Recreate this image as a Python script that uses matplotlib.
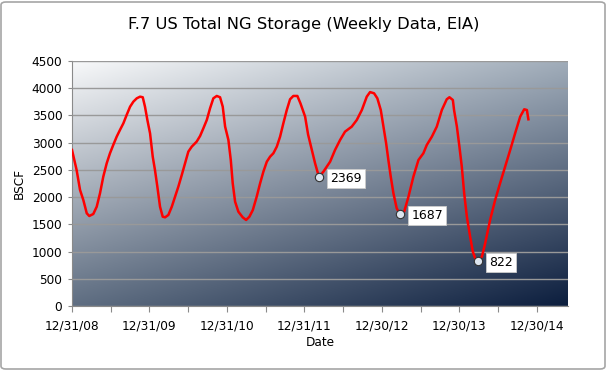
import numpy as np
import matplotlib
matplotlib.use("Agg")
import matplotlib.pyplot as plt
from matplotlib.patches import FancyBboxPatch

# weekly storage, x = week index on the category axis
weeks = [0, 3.1, 5.4, 7.6, 9.9, 11.6, 14.3, 16.6, 18.8, 21, 23.3, 25.5, 27.7, 30, 32.2,
         34.5, 36.7, 39, 41.2, 43.5, 45.7, 47.5, 49, 50.6, 52.4, 54.2, 55.7, 57.3, 59.1,
         60.9, 62.5, 64.7, 67, 69.2, 71.4, 73.7, 75.9, 78.1, 80.4, 83.7, 86, 88.2, 90.5,
         92.7, 94.9, 97.2, 99.4, 101.2, 102.8, 105, 106.6, 107.9, 109.5, 111.7, 114.6,
         116.9, 119.1, 121.4, 124, 126.3, 128.5, 130.8, 133, 135.2, 137.5, 139.7, 141.9,
         144.2, 146.4, 148.6, 151.3, 153.4, 156.5, 158.5, 161, 163.2, 165.8, 168.8, 173.3,
         176.6, 180, 183.3, 187.8, 191.2, 194.6, 197.9, 200.1, 202.8, 205, 207.3, 209.1,
         210.9, 212.4, 214, 215.8, 218, 220.3, 223, 225.9, 229.2, 232.6, 235.9, 238.2,
         241.6, 244.9, 248.3, 251.6, 253.4, 255.7, 256.5, 258.4, 260.1, 261.7, 263.3,
         265.1, 267.3, 269.1, 270.7, 272.5, 275.2, 277.4, 280.7, 284.1, 287.4, 290.8,
         294.2, 297.5, 300.9, 303.6, 305.4, 306.4]
bscf = [2866, 2498, 2131, 1947, 1703, 1653, 1690, 1824, 2070, 2375, 2621, 2805, 2958, 3110,
        3233, 3356, 3509, 3661, 3753, 3815, 3845, 3834, 3661, 3417, 3172, 2743, 2498, 2192,
        1824, 1640, 1629, 1672, 1824, 2008, 2192, 2407, 2621, 2835, 2927, 3019, 3123, 3264,
        3417, 3632, 3815, 3858, 3834, 3661, 3294, 3050, 2682, 2254, 1916, 1732, 1629, 1580,
        1640, 1763, 2008, 2254, 2468, 2651, 2743, 2805, 2927, 3110, 3356, 3600, 3797, 3858,
        3858, 3720, 3478, 3150, 2866, 2621, 2369, 2468, 2651, 2866, 3050, 3202, 3294, 3417,
        3600, 3845, 3929, 3907, 3815, 3600, 3294, 2988, 2682, 2375, 2070, 1794, 1687, 1732,
        2008, 2375, 2682, 2805, 2958, 3110, 3294, 3600, 3797, 3834, 3784, 3600, 3294, 2927,
        2559, 2070, 1640, 1273, 998, 876, 822, 906, 1152, 1580, 1947, 2254, 2559, 2866,
        3172, 3478, 3613, 3600, 3429]

# labelled spring minima
min_weeks = [165.8, 220.3, 272.5]
min_vals = [2369, 1687, 822]

date_labels = ["12/31/08", "12/31/09", "12/31/10", "12/31/11", "12/30/12", "12/30/13", "12/30/14"]

fig = plt.figure(figsize=(6.08, 3.70), dpi=100)
ax = fig.add_axes([72/608, 1-306/370, 496/608, 245/370])

# diagonal background gradient (bilinear between the corners)
tl = np.array([248, 249, 250]) / 255
tr = np.array([160, 172, 185]) / 255
bl = np.array([95, 110, 130]) / 255
br = np.array([12, 30, 62]) / 255
u = np.linspace(0, 1, 400)[None, :, None]
v = np.linspace(0, 1, 200)[:, None, None]
grad = tl*(1-u)*(1-v) + tr*u*(1-v) + bl*(1-u)*v + br*u*v
ax.imshow(grad, extent=[0, 1, 0, 1], transform=ax.transAxes, aspect='auto', zorder=0)

ax.plot(weeks, bscf, color='#ff0000', linewidth=1.8, zorder=3)
ax.plot(min_weeks, min_vals, 'o', markersize=6, markerfacecolor='#dce4ee',
        markeredgecolor='#333333', markeredgewidth=0.8, zorder=4)
for w, val in zip(min_weeks, min_vals):
    ax.annotate(str(val), (w, val), xytext=(8, -1), textcoords='offset points',
                ha='left', va='center', fontsize=9, zorder=5,
                bbox=dict(boxstyle='square,pad=0.25', fc='white', ec='#cccccc', lw=0.6))

ax.set_xlim(0, 333)
ax.set_ylim(0, 4500)
ax.set_yticks(np.arange(0, 4501, 500))
ax.set_xticks(np.arange(0, 313, 26))
ax.set_xticklabels([date_labels[k // 2] if k % 2 == 0 else '' for k in range(13)])
ax.yaxis.grid(True, color='#999999', linewidth=1, zorder=1)
ax.set_axisbelow(False)
for s in ['top', 'right']:
    ax.spines[s].set_visible(False)
for s in ['left', 'bottom']:
    ax.spines[s].set_color('#8a8a8a')
ax.tick_params(axis='x', length=4, color='#8a8a8a', labelsize=8.7, pad=6)
ax.tick_params(axis='y', length=3, color='#8a8a8a', labelsize=8.7, pad=4)
ax.set_xlabel('Date', fontsize=8.7, labelpad=2)
ax.set_ylabel('BSCF', fontsize=8.7, labelpad=4)

fig.text(0.5, 1-25/370, 'F.7 US Total NG Storage (Weekly Data, EIA)', ha='center',
         va='center', fontsize=11.8)

border = FancyBboxPatch((1/608, 1/370), 604/608, 367/370, boxstyle='round,pad=0,rounding_size=0.008',
                        transform=fig.transFigure, fill=False, ec='#a6a6a6', lw=1.2)
fig.patches.append(border)

fig.savefig('out.png', dpi=100)
